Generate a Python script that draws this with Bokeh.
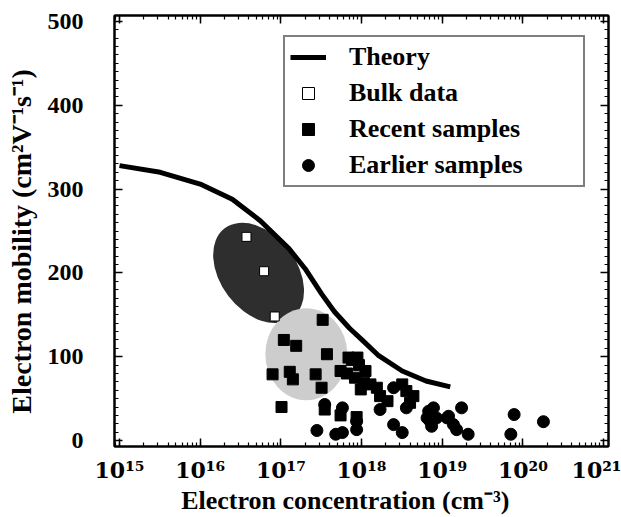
from bokeh.plotting import figure
from bokeh.models import (Range1d, LinearAxis, LogAxis, Legend, LegendItem,
                          FixedTicker, LogTicker)
from bokeh.embed import file_html
from bokeh.resources import INLINE

# ---------------- data ----------------
theory_x = [1e15, 3.2e15, 1e16, 2.5e16, 5.6e16, 1.26e17, 2.0e17, 3.2e17,
            4.6e17, 7.1e17, 1.07e18, 1.6e18, 3.2e18, 6.3e18, 1.26e19]
theory_y = [328, 320, 306, 288, 262, 229, 205, 175, 154, 134, 118, 102, 83, 71, 64]

bulk_x = [3.75e16, 6.2e16, 8.4e16]
bulk_y = [243, 202, 148]

recent_x = [3.3e17, 1.09e17, 1.55e17, 3.73e17, 7.9e16, 1.29e17, 1.41e17, 2.7e17,
            3.2e17, 1.02e17, 3.5e17, 5.5e17, 8.7e17,
            7.6e17, 9.3e17, 5.5e17, 6.6e17, 1.12e18, 8.3e17, 1.07e18, 1.29e18,
            1.55e18, 9.8e17, 1.7e18, 2.1e18, 3.6e18, 4.4e18, 3.2e18, 4.0e18,
            6.9e17, 8.9e17]
recent_y = [144, 120, 113, 103, 79, 82, 73, 79,
            63, 40, 37, 30, 28,
            96, 90, 83, 80, 83, 75, 69, 67,
            63, 61, 53, 47, 59, 53, 67, 45,
            99, 99]

earlier_x = [2.8e17, 3.5e17, 5.8e17, 4.8e17, 5.8e17, 8.7e17, 8.7e17, 2.5e18,
             2.5e18, 3.2e18, 1.7e18, 3.6e18, 6.8e18, 7.8e18, 7.1e18, 6.5e18,
             7.4e18, 1.2e19, 1.38e19, 1.51e19, 1.74e19, 2.1e19, 7.8e19, 7.1e19,
             1.8e20, 8.5e18, 1.15e19]
earlier_y = [12, 43, 39, 7.5, 9.5, 23, 13, 63,
             19, 9.5, 37, 39, 35, 39, 23, 27,
             17, 29, 19, 13, 39, 7.5, 31, 7.5,
             22.5, 27, 27]

# shaded regions (centres, data units)
region_x = [5.3e16, 2.07e17]
region_y = [200, 103]

x_tick_values = [1e15, 1e16, 1e17, 1e18, 1e19, 1e20, 1e21]
x_tick_labels = ["10\u00b9\u2075", "10\u00b9\u2076", "10\u00b9\u2077", "10\u00b9\u2078",
                 "10\u00b9\u2079", "10\u00b2\u2070", "10\u00b2\u00b9"]
y_tick_values = [0, 100, 200, 300, 400, 500]

x_title = "Electron concentration  (cm\u207b\u00b3)"
y_title = "Electron mobility (cm\u00b2V\u207b\u00b9s\u207b\u00b9)"

# ---------------- figure ----------------
FONT = "Liberation Serif"
TICK_FONT = "DejaVu Serif"
NB = "\u00a0"

p = figure(width=621, height=517, x_axis_type="log",
           x_range=Range1d(10 ** 14.938, 10 ** 21.062), y_range=Range1d(-7.1, 507.1),
           output_backend="svg", toolbar_location=None,
           min_border_left=114, min_border_right=13, min_border_top=15, min_border_bottom=68)
p.xgrid.visible = False
p.ygrid.visible = False
p.outline_line_color = "black"
p.outline_line_width = 2
p.background_fill_color = "white"
p.border_fill_color = "white"

# shaded ellipses
p.ellipse(x=region_x[0], y=region_y[0], width=112, height=76, angle=-0.92,
          width_units="screen", height_units="screen",
          fill_color="#2e2e2e", line_color=None)
p.ellipse(x=region_x[1], y=region_y[1], width=82, height=92, angle=0.0,
          width_units="screen", height_units="screen",
          fill_color="#cdcdcd", line_color=None)

r_theory = p.line(theory_x, theory_y, line_color="black", line_width=5)
r_recent = p.scatter(recent_x, recent_y, marker="square", size=11,
                     fill_color="black", line_color="black")
r_earlier = p.scatter(earlier_x, earlier_y, marker="circle", size=12,
                      fill_color="black", line_color="black")
r_bulk = p.scatter(bulk_x, bulk_y, marker="square", size=9,
                   fill_color="white", line_color="black", line_width=1)


def style_axis(ax):
    ax.axis_line_color = "black"
    ax.axis_line_width = 2
    ax.major_tick_line_color = "black"
    ax.minor_tick_line_color = "black"
    ax.major_tick_line_width = 1.5
    ax.minor_tick_line_width = 1.2
    ax.major_tick_in = 8
    ax.major_tick_out = 0
    ax.minor_tick_in = 4
    ax.minor_tick_out = 0


xa = p.xaxis[0]
ya = p.yaxis[0]
xa.ticker = LogTicker(desired_num_ticks=7, num_minor_ticks=10)
xa.major_label_overrides = {v: s for v, s in zip(x_tick_values, x_tick_labels)}
ya.ticker = FixedTicker(ticks=y_tick_values, minor_ticks=list(range(0, 501, 10)))
for ax in (xa, ya):
    style_axis(ax)
    ax.major_label_text_font = FONT
    ax.major_label_text_font_style = "bold"
    ax.major_label_text_color = "black"
    ax.axis_label_text_font = FONT
    ax.axis_label_text_font_style = "bold"
    ax.axis_label_text_color = "black"

xa.major_label_text_font = TICK_FONT
xa.major_label_text_font_size = "22px"
xa.major_label_standoff = 10
xa.axis_label = x_title + NB * 4
xa.axis_label_text_font_size = "26px"
xa.axis_label_standoff = 0

ya.major_label_text_font_size = "24px"
ya.major_label_standoff = 31
ya.axis_label = y_title + NB * 3
ya.axis_label_text_font_size = "28px"
ya.axis_label_standoff = 8

top = LogAxis(ticker=LogTicker(desired_num_ticks=7, num_minor_ticks=10))
right = LinearAxis(ticker=FixedTicker(ticks=y_tick_values,
                                      minor_ticks=list(range(0, 501, 10))))
for ax in (top, right):
    style_axis(ax)
    ax.major_label_text_font_size = "1px"
    ax.major_label_text_color = None
    ax.major_label_standoff = 0
p.add_layout(top, "above")
p.add_layout(right, "right")

legend = Legend(items=[
    LegendItem(label="Theory", renderers=[r_theory]),
    LegendItem(label="Bulk data", renderers=[r_bulk]),
    LegendItem(label="Recent samples", renderers=[r_recent]),
    LegendItem(label="Earlier samples", renderers=[r_earlier]),
], location=(169, 259), margin=0)
legend.label_text_font = FONT
legend.label_text_font_style = "bold"
legend.label_text_font_size = "26px"
legend.label_text_color = "black"
legend.border_line_color = "black"
legend.border_line_width = 2
legend.background_fill_color = "white"
legend.background_fill_alpha = 1.0
legend.glyph_width = 36
legend.glyph_height = 30
legend.label_height = 30
legend.spacing = 6
legend.padding = 5
legend.label_standoff = 23
legend.label_width = 229
p.add_layout(legend)

open("out.html", "w").write(file_html(p, INLINE))
